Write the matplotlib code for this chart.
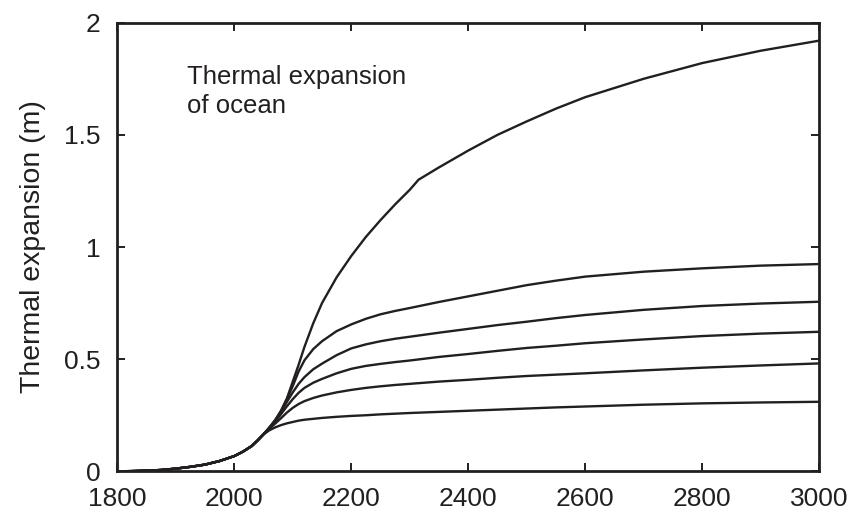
import matplotlib
matplotlib.use('Agg')
import matplotlib.pyplot as plt

# shared early part (all runs overlap until ~2050)
trunkYears = [1800, 1825, 1850, 1875, 1900, 1925, 1950, 1975, 2000, 2015, 2030, 2040, 2050]
trunkValues = [0.0, 0.001, 0.003, 0.006, 0.012, 0.02, 0.03, 0.046, 0.068, 0.088, 0.113, 0.138, 0.165]

# years after the curves split
years = [2060, 2070, 2080, 2090, 2100, 2110, 2120, 2135, 2150, 2175, 2200, 2225, 2250, 2275,
         2300, 2350, 2400, 2450, 2500, 2550, 2600, 2700, 2800, 2900, 3000]

run1 = [0.183, 0.196, 0.206, 0.214, 0.220, 0.226, 0.230, 0.234, 0.238, 0.243, 0.247, 0.250, 0.254, 0.257,
        0.260, 0.265, 0.270, 0.275, 0.280, 0.285, 0.289, 0.297, 0.303, 0.307, 0.310]
run2 = [0.190, 0.213, 0.237, 0.262, 0.283, 0.300, 0.313, 0.327, 0.338, 0.352, 0.363, 0.372, 0.379, 0.385,
        0.390, 0.400, 0.408, 0.417, 0.425, 0.431, 0.437, 0.450, 0.462, 0.472, 0.481]
run3 = [0.193, 0.222, 0.255, 0.290, 0.322, 0.350, 0.372, 0.395, 0.412, 0.437, 0.457, 0.470, 0.479, 0.487,
        0.494, 0.510, 0.523, 0.537, 0.550, 0.560, 0.571, 0.588, 0.603, 0.614, 0.622]
run4 = [0.195, 0.227, 0.265, 0.310, 0.352, 0.390, 0.420, 0.455, 0.480, 0.518, 0.548, 0.566, 0.580, 0.591,
        0.600, 0.618, 0.635, 0.652, 0.667, 0.683, 0.697, 0.720, 0.737, 0.748, 0.756]
run5 = [0.195, 0.228, 0.270, 0.322, 0.380, 0.445, 0.495, 0.545, 0.580, 0.625, 0.655, 0.680, 0.700, 0.715,
        0.728, 0.755, 0.780, 0.805, 0.830, 0.850, 0.868, 0.890, 0.905, 0.917, 0.924]

topYears = [2060, 2070, 2080, 2090, 2100, 2110, 2120, 2135, 2150, 2175, 2200, 2225, 2250, 2275,
            2300, 2315, 2350, 2400, 2450, 2500, 2550, 2600, 2700, 2800, 2900, 3000]
run6 = [0.195, 0.228, 0.270, 0.325, 0.400, 0.475, 0.555, 0.660, 0.750, 0.865, 0.960, 1.045, 1.120, 1.190,
        1.255, 1.300, 1.355, 1.430, 1.500, 1.560, 1.617, 1.668, 1.750, 1.820, 1.875, 1.920]

xticks = [1800, 2000, 2200, 2400, 2600, 2800, 3000]
yticks = [0, 0.5, 1, 1.5, 2]
yticklabels = ['0', '0.5', '1', '1.5', '2']

ink = '#231f20'
plt.rcParams['font.family'] = ['Liberation Sans', 'DejaVu Sans']

fig = plt.figure(figsize=(8.51, 5.18), dpi=100)
ax = fig.add_axes([0.1378, 0.0901, 0.8249, 0.8661])

for ys, xs in [(run1, years), (run2, years), (run3, years), (run4, years), (run5, years), (run6, topYears)]:
    ax.plot(trunkYears + xs, trunkValues + ys, color=ink, linewidth=1.7,
            solid_capstyle='round', solid_joinstyle='round')

ax.set_xlim(1800, 3000)
ax.set_ylim(0, 2)
ax.set_xticks(xticks)
ax.set_yticks(yticks)
ax.set_yticklabels(yticklabels)

ax.tick_params(direction='in', top=True, right=True, length=6, width=1.4,
               color=ink, labelcolor=ink, labelsize=19)
ax.tick_params(axis='x', pad=11)
ax.tick_params(axis='y', pad=12)
for s in ax.spines.values():
    s.set_linewidth(2)
    s.set_color(ink)

ax.set_ylabel('Thermal expansion (m)', fontsize=20.5, color=ink, labelpad=13)
ax.text(0.099, 0.905, 'Thermal expansion\nof ocean', transform=ax.transAxes,
        fontsize=18.5, color=ink, va='top', ha='left', linespacing=1.25)

fig.savefig('out.png', dpi=100)
